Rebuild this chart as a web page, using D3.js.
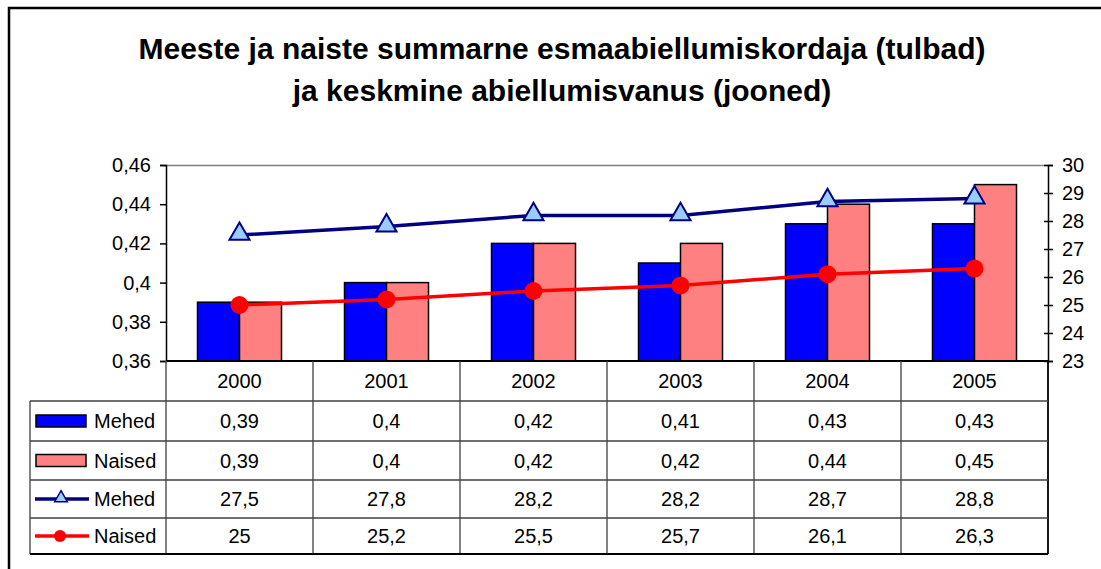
<!DOCTYPE html>
<html>
<head>
<meta charset="utf-8">
<script src="https://cdn.jsdelivr.net/npm/d3@7"></script>
<style>
  body { margin: 0; background: #fff; }
  svg { display: block; font-family: "Liberation Sans", Arial, sans-serif; }
</style>
</head>
<body>
<svg id="canvas" width="1101" height="569"></svg>
<script>
// chart data
let years = ["2000", "2001", "2002", "2003", "2004", "2005"];
let rateMen = [0.39, 0.40, 0.42, 0.41, 0.43, 0.43];
let rateWomen = [0.39, 0.40, 0.42, 0.42, 0.44, 0.45];
let ageMen = [27.5, 27.8, 28.2, 28.2, 28.7, 28.8];
let ageWomen = [25, 25.2, 25.5, 25.7, 26.1, 26.3];
let leftTicks = [0.36, 0.38, 0.40, 0.42, 0.44, 0.46];
let rightTicks = [23, 24, 25, 26, 27, 28, 29, 30];

let canvas = d3.select("#canvas")

let plotLeft = 166, plotRight = 1048, plotTop = 165, plotBottom = 361
let rowY = [361, 401, 441, 480, 518, 554]
let tableLeft = 30
let fontSize = "20px"

let comma = (v) => String(v).replace(".", ",")

// outer frame
canvas.append("rect")
    .attr("x", 9).attr("y", 8)
    .attr("width", 1200).attr("height", 700)
    .attr("fill", "none")
    .attr("stroke", "black")
    .attr("stroke-width", 2.5)

// title
let title = canvas.append("text")
    .attr("text-anchor", "middle")
    .attr("font-size", "30px")
    .attr("font-weight", "bold")
title.append("tspan").attr("x", 562).attr("y", 59)
    .text("Meeste ja naiste summarne esmaabiellumiskordaja (tulbad)")
title.append("tspan").attr("x", 562).attr("y", 101)
    .text("ja keskmine abiellumisvanus (jooned)")

let x = d3.scaleBand().domain(years).range([plotLeft, plotRight]).padding(0)
let xs = d3.scaleBand().domain(["Mehed", "Naised"]).range([0, x.bandwidth()])
    .paddingInner(0).paddingOuter(0.75)
let yL = d3.scaleLinear().domain([0.36, 0.46]).range([plotBottom, plotTop])
let yR = d3.scaleLinear().domain([23, 30]).range([plotBottom, plotTop])

// plot area top edge
canvas.append("line")
    .attr("x1", plotLeft).attr("x2", plotRight)
    .attr("y1", plotTop + 0.5).attr("y2", plotTop + 0.5)
    .attr("stroke", "#808080").attr("stroke-width", 1.5)

// bars
let barSeries = [
    {name: "Mehed", values: rateMen, color: "#0000ff"},
    {name: "Naised", values: rateWomen, color: "#ff8080"}
]
barSeries.forEach((s) => {
    canvas.append("g").selectAll("rect")
        .data(s.values)
        .enter()
        .append("rect")
        .attr("x", (d, i) => x(years[i]) + xs(s.name))
        .attr("y", (d) => yL(d))
        .attr("width", xs.bandwidth())
        .attr("height", (d) => plotBottom - yL(d))
        .attr("fill", s.color)
        .attr("stroke", "black")
        .attr("stroke-width", 1.5)
})

// left axis
let axisL = d3.axisLeft(yL).tickValues(leftTicks).tickSize(6).tickPadding(9)
    .tickFormat((d) => comma(+d.toFixed(2)))
let gL = canvas.append("g").attr("transform", `translate(${plotLeft},0)`).call(axisL)
gL.select(".domain").attr("stroke", "black").attr("stroke-width", 1.5)
gL.selectAll(".tick line").attr("stroke", "black").attr("stroke-width", 1.5)
gL.selectAll(".tick text").attr("font-size", fontSize).attr("font-family", "Liberation Sans, Arial").attr("fill", "#000")

// right axis
let axisR = d3.axisRight(yR).tickValues(rightTicks).tickSize(5).tickPadding(9)
    .tickFormat(d3.format("d"))
let gR = canvas.append("g").attr("transform", `translate(${plotRight},0)`).call(axisR)
gR.select(".domain").attr("stroke", "black").attr("stroke-width", 1.5)
gR.selectAll(".tick line").attr("x1", -4).attr("stroke", "black").attr("stroke-width", 1.5)
gR.selectAll(".tick text").attr("font-size", fontSize).attr("font-family", "Liberation Sans, Arial").attr("fill", "#000")

// bottom axis line
canvas.append("line")
    .attr("x1", plotLeft).attr("x2", plotRight)
    .attr("y1", plotBottom).attr("y2", plotBottom)
    .attr("stroke", "black").attr("stroke-width", 2)

// lines
let cx = (i) => x(years[i]) + x.bandwidth() / 2
let lineGen = d3.line().x((d, i) => cx(i)).y((d) => yR(d))
canvas.append("path")
    .attr("d", lineGen(ageMen))
    .attr("fill", "none")
    .attr("stroke", "#000080")
    .attr("stroke-width", 3.5)
canvas.append("path")
    .attr("d", lineGen(ageWomen))
    .attr("fill", "none")
    .attr("stroke", "#ff0000")
    .attr("stroke-width", 3.5)

let tri = d3.symbol().type(d3.symbolTriangle).size(175)
canvas.append("g").selectAll("path")
    .data(ageMen)
    .enter()
    .append("path")
    .attr("d", tri)
    .attr("transform", (d, i) => `translate(${cx(i)},${yR(d) - 1})`)
    .attr("fill", "#99ccff")
    .attr("stroke", "#000080")
    .attr("stroke-width", 2)
canvas.append("g").selectAll("circle")
    .data(ageWomen)
    .enter()
    .append("circle")
    .attr("cx", (d, i) => cx(i))
    .attr("cy", (d) => yR(d))
    .attr("r", 9)
    .attr("fill", "#ff0000")

// data table
let gridColor = "#404040"
let table = canvas.append("g")

// vertical lines in the category area
years.forEach((yr) => {
    table.append("line")
        .attr("x1", x(yr)).attr("x2", x(yr))
        .attr("y1", rowY[0]).attr("y2", rowY[5])
        .attr("stroke", gridColor).attr("stroke-width", 1.3)
})
table.append("line")
    .attr("x1", plotRight).attr("x2", plotRight)
    .attr("y1", rowY[0]).attr("y2", rowY[5])
    .attr("stroke", "black").attr("stroke-width", 1.8)
table.append("line")
    .attr("x1", tableLeft).attr("x2", tableLeft)
    .attr("y1", rowY[1]).attr("y2", rowY[5])
    .attr("stroke", gridColor).attr("stroke-width", 1.3)

// horizontal lines
rowY.slice(1).forEach((yy, i) => {
    table.append("line")
        .attr("x1", tableLeft).attr("x2", plotRight)
        .attr("y1", yy).attr("y2", yy)
        .attr("stroke", i === 4 ? "black" : gridColor)
        .attr("stroke-width", i === 4 ? 1.8 : 1.3)
})

// year labels
table.selectAll("text.year")
    .data(years)
    .enter()
    .append("text")
    .attr("class", "year")
    .attr("x", (d) => x(d) + x.bandwidth() / 2)
    .attr("y", (rowY[0] + rowY[1]) / 2 + 7)
    .attr("text-anchor", "middle")
    .attr("font-size", fontSize)
    .text((d) => d)

let rows = [
    {name: "Mehed", values: rateMen, kind: "bar", color: "#0000ff"},
    {name: "Naised", values: rateWomen, kind: "bar", color: "#ff8080"},
    {name: "Mehed", values: ageMen, kind: "tri", color: "#000080"},
    {name: "Naised", values: ageWomen, kind: "dot", color: "#ff0000"}
]
rows.forEach((r, ri) => {
    let mid = (rowY[ri + 1] + rowY[ri + 2]) / 2
    r.values.forEach((v, i) => {
        table.append("text")
            .attr("x", x(years[i]) + x.bandwidth() / 2)
            .attr("y", mid + 7)
            .attr("text-anchor", "middle")
            .attr("font-size", fontSize)
            .text(comma(v))
    })
    table.append("text")
        .attr("x", 94)
        .attr("y", mid + 7)
        .attr("font-size", fontSize)
        .text(r.name)
    if (r.kind === "bar") {
        table.append("rect")
            .attr("x", 36).attr("y", mid - 6)
            .attr("width", 50).attr("height", 12)
            .attr("fill", r.color)
            .attr("stroke", "black").attr("stroke-width", 1.5)
    } else {
        table.append("line")
            .attr("x1", 35).attr("x2", 89)
            .attr("y1", mid).attr("y2", mid)
            .attr("stroke", r.color).attr("stroke-width", 3.5)
        if (r.kind === "tri") {
            table.append("path")
                .attr("d", d3.symbol().type(d3.symbolTriangle).size(70)())
                .attr("transform", `translate(61,${mid - 1})`)
                .attr("fill", "#99ccff")
                .attr("stroke", "#000080")
                .attr("stroke-width", 1.5)
        } else {
            table.append("circle")
                .attr("cx", 60).attr("cy", mid).attr("r", 6)
                .attr("fill", "#ff0000")
        }
    }
})
</script>
</body>
</html>
